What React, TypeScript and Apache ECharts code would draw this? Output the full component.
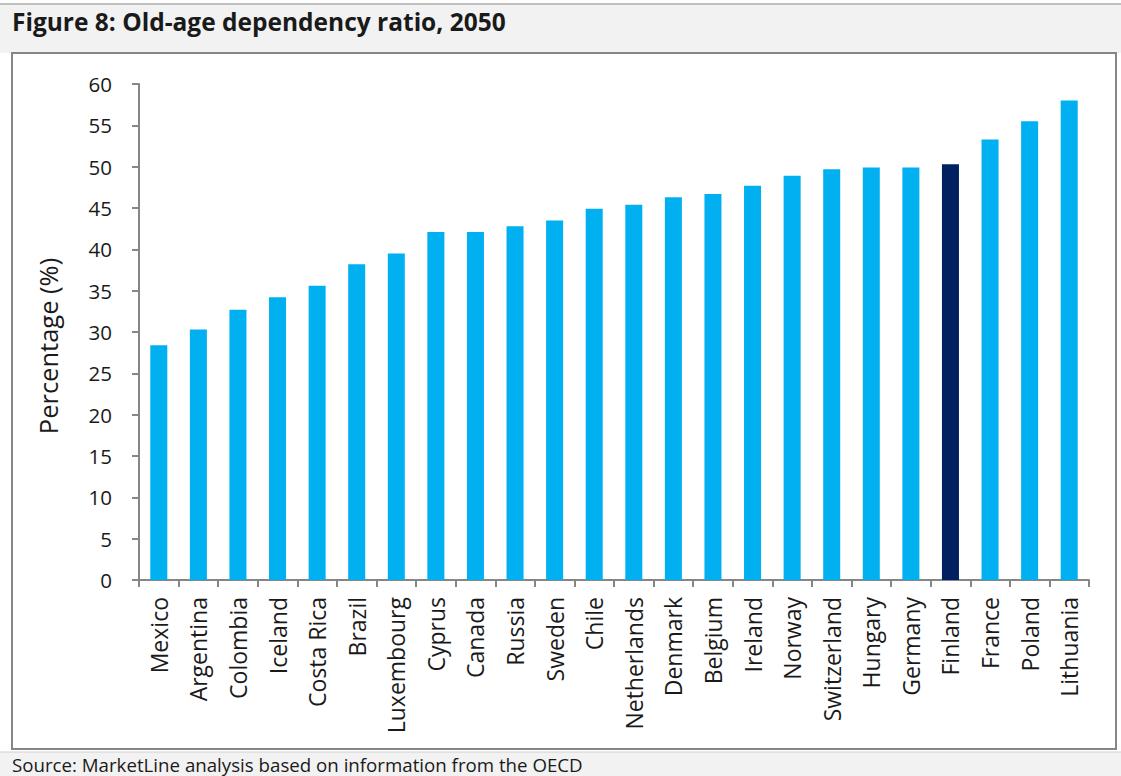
import React, { useEffect, useRef } from "react";
import * as echarts from "echarts";

const countries = [
  "Mexico", "Argentina", "Colombia", "Iceland", "Costa Rica", "Brazil",
  "Luxembourg", "Cyprus", "Canada", "Russia", "Sweden", "Chile",
  "Netherlands", "Denmark", "Belgium", "Ireland", "Norway", "Switzerland",
  "Hungary", "Germany", "Finland", "France", "Poland", "Lithuania",
];

const ratio2050 = [
  28.4, 30.3, 32.7, 34.2, 35.6, 38.2,
  39.5, 42.1, 42.1, 42.8, 43.5, 44.9,
  45.4, 46.3, 46.7, 47.7, 48.9, 49.7,
  49.9, 49.9, 50.3, 53.3, 55.5, 58.0,
];

const highlighted = "Finland";

const titleText = "Figure 8: Old-age dependency ratio, 2050";
const sourceText = "Source: MarketLine analysis based on information from the OECD";
const yAxisName = "Percentage (%)";

const BAR = "#00B0F0";
const BAR_HI = "#002060";
const AXIS = "#868686";
const INK = "#1a1a1a";
const FONT = "'Open Sans', 'Noto Sans', sans-serif";

export default function App() {
  const ref = useRef<HTMLDivElement>(null);

  useEffect(() => {
    if (!ref.current) return;
    const chart = echarts.init(ref.current, undefined, { renderer: "svg" });
    chart.setOption({
      animation: false,
      backgroundColor: "#ffffff",
      textStyle: { fontFamily: FONT },
      graphic: [
        // title band
        { type: "rect", shape: { x: 0, y: 4, width: 1121, height: 49 }, style: { fill: "#f2f2f2" }, z: -1 },
        { type: "line", shape: { x1: 0, y1: 4, x2: 1121, y2: 4 }, style: { stroke: "#bfbfbf", lineWidth: 2 } },
        { type: "text", left: 12, top: 9, style: { text: titleText, font: `bold 24.5px ${FONT}`, fill: INK } },
        // chart frame
        { type: "rect", shape: { x: 12, y: 53, width: 1104, height: 696 }, style: { fill: "none", stroke: AXIS, lineWidth: 2 }, z: 10 },
        // value axis title, centred beside the axis
        {
          type: "text",
          x: 48,
          y: 346,
          rotation: Math.PI / 2,
          style: {
            text: yAxisName,
            font: `25.5px ${FONT}`,
            fill: INK,
            align: "center",
            verticalAlign: "middle",
          },
        },
        // source band
        { type: "rect", shape: { x: 0, y: 752, width: 1121, height: 24 }, style: { fill: "#f2f2f2" }, z: -1 },
        { type: "line", shape: { x1: 0, y1: 752, x2: 1121, y2: 752 }, style: { stroke: "#d0d0d0", lineWidth: 1 } },
        { type: "text", left: 12, top: 755, style: { text: sourceText, font: `18.7px ${FONT}`, fill: INK } },
      ],
      grid: { left: 139, right: 32, top: 84, bottom: 196, containLabel: false },
      xAxis: {
        type: "category",
        data: countries,
        axisLine: { show: true, lineStyle: { color: AXIS, width: 2 } },
        axisTick: { show: true, alignWithLabel: false, length: 7, lineStyle: { color: AXIS, width: 2 } },
        axisLabel: { rotate: 90, interval: 0, margin: 17, fontSize: 23, color: INK, fontFamily: FONT },
      },
      yAxis: {
        type: "value",
        min: 0,
        max: 60,
        interval: 5,
        axisLine: { show: true, lineStyle: { color: AXIS, width: 2 } },
        axisTick: { show: true, length: 7, lineStyle: { color: AXIS, width: 2 } },
        axisLabel: { fontSize: 20.5, color: INK, margin: 27, fontFamily: FONT },
        splitLine: { show: false },
      },
      series: [
        {
          type: "bar",
          barWidth: "43%",
          data: ratio2050.map((v, i) => ({
            value: v,
            itemStyle: { color: countries[i] === highlighted ? BAR_HI : BAR },
          })),
        },
      ],
    });
    return () => chart.dispose();
  }, []);

  return (
    <div
      ref={ref}
      style={{ position: "fixed", left: 0, top: 0, width: 1121, height: 776 }}
    />
  );
}
